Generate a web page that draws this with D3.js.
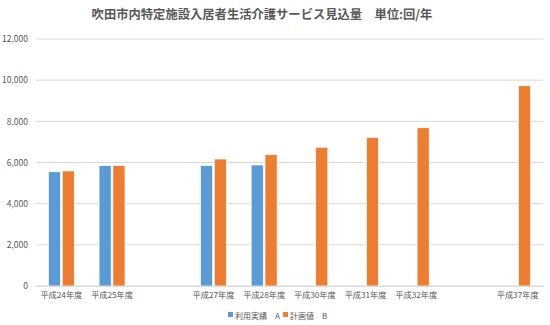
<!DOCTYPE html>
<html>
<head>
<meta charset="utf-8">
<script src="https://cdn.jsdelivr.net/npm/d3@7"></script>
<style>
  body { margin: 0; background: #fff; }
  svg { display: block; font-family: "Noto Sans CJK JP", "Noto Sans", sans-serif; }
</style>
</head>
<body>
<svg id="chart" width="550" height="325"></svg>
<script>
// Fiscal-year slots (empty strings are unlabeled spacer slots)
const categories = ["平成24年度", "平成25年度", "", "平成27年度", "平成28年度", "平成30年度", "平成31年度", "平成32年度", " ", "平成37年度"];
// 利用実績 A (actual use); null where no value
const actualA = [5550, 5850, null, 5850, 5880, null, null, null, null, null];
// 計画値 B (planned)
const planB = [5590, 5850, null, 6170, 6380, 6740, 7220, 7690, null, 9730];
const yTicks = [0, 2000, 4000, 6000, 8000, 10000, 12000];
const seriesNames = ["利用実績　A", "計画値　B"];
const colors = ["#5B9BD5", "#ED7D31"];

const svg = d3.select("#chart");
const margin = { left: 36, right: 7, top: 39, bottom: 39 };
const W = 550, H = 325;

const x = d3.scaleBand().domain(categories).range([margin.left, W - margin.right]).paddingInner(0).paddingOuter(0);
const xs = d3.scaleBand().domain([0, 1]).range([0, 26]).paddingInner(0.12);
const y = d3.scaleLinear().domain([0, 12000]).range([H - margin.bottom, margin.top]);

// Title
svg.append("text")
  .attr("x", 262).attr("y", 19)
  .attr("text-anchor", "middle")
  .attr("font-size", 12.3).attr("font-weight", "bold")
  .attr("fill", "#595959")
  .text("吹田市内特定施設入居者生活介護サービス見込量　単位:回/年");

// Gridlines
svg.append("g").selectAll("line").data(yTicks).join("line")
  .attr("x1", margin.left).attr("x2", W - margin.right)
  .attr("y1", d => y(d)).attr("y2", d => y(d))
  .attr("stroke", "#D9D9D9").attr("stroke-width", 1);

// Y axis labels
const yAxis = d3.axisLeft(y).tickValues(yTicks).tickFormat(d3.format(",")).tickSize(0).tickPadding(8);
svg.append("g").attr("transform", `translate(${margin.left},0)`).call(yAxis)
  .call(g => g.select(".domain").remove())
  .call(g => g.selectAll("text").attr("fill", "#595959").attr("font-size", 8.5).attr("font-family", "Noto Sans CJK JP, sans-serif"));

// Bars
const series = [actualA, planB];
const groupOffset = (x.bandwidth() - 26) / 2;
series.forEach((vals, si) => {
  svg.append("g").selectAll("rect")
    .data(categories.map((c, i) => ({ c, v: vals[i] })).filter(d => d.v != null))
    .join("rect")
    .attr("x", d => x(d.c) + groupOffset + xs(si))
    .attr("width", xs.bandwidth())
    .attr("y", d => y(d.v))
    .attr("height", d => y(0) - y(d.v))
    .attr("fill", colors[si])
    .attr("stroke", "#fff").attr("stroke-width", 0.75);
});

// X axis labels
const xAxis = d3.axisBottom(x).tickSize(0).tickPadding(6);
svg.append("g").attr("transform", `translate(0,${y(0)})`).call(xAxis)
  .call(g => g.select(".domain").attr("stroke", "#D9D9D9"))
  .call(g => g.selectAll("text").attr("fill", "#595959").attr("font-size", 8.2).attr("font-family", "Noto Sans CJK JP, sans-serif"));

// Legend
const legend = svg.append("g");
const legendItems = [{ x: 228 }, { x: 283 }];
legendItems.forEach((it, i) => {
  legend.append("rect").attr("x", it.x).attr("y", 312).attr("width", 5).attr("height", 5).attr("fill", colors[i]);
  legend.append("text").attr("x", it.x + 7).attr("y", 318.5)
    .attr("font-size", 8).attr("fill", "#595959").text(seriesNames[i]);
});
</script>
</body>
</html>
